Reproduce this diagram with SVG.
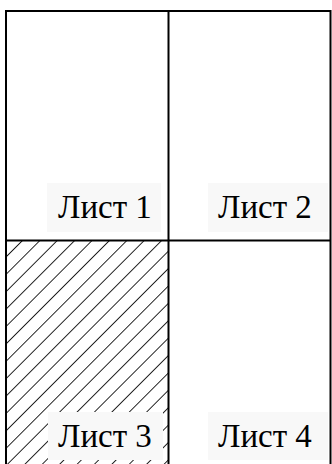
<svg xmlns="http://www.w3.org/2000/svg" width="332" height="464" viewBox="0 0 332 464">
<style>
.cell{fill:none;stroke:#000;stroke-width:2}
.lbl-bg{fill:#f8f8f8}
.lbl{font-family:"Liberation Serif","Times New Roman",serif;font-size:33px;fill:#000}
</style>
<defs>
<pattern id="hatch" patternUnits="userSpaceOnUse" width="12.3" height="12.3" patternTransform="translate(1.4,0) rotate(45)">
<line x1="0" y1="-1" x2="0" y2="14" stroke="#000" stroke-width="1.7"/>
</pattern>
</defs>
<rect x="0" y="0" width="332" height="464" fill="#fff"/>
<g id="sheet3-hatch">
<rect x="6" y="241" width="162.5" height="230" fill="url(#hatch)"/>
</g>
<g id="connectors">
<rect class="cell" x="6" y="11" width="324.5" height="460"/>
<line class="cell" x1="168.5" y1="11" x2="168.5" y2="471"/>
<line class="cell" x1="6" y1="240.5" x2="330.5" y2="240.5"/>
</g>
<g id="sheet1">
<rect class="lbl-bg" x="47" y="183" width="114" height="49"/>
<text class="lbl" x="58" y="218">Лист 1</text>
</g>
<g id="sheet2">
<rect class="lbl-bg" x="208" y="183" width="120" height="49"/>
<text class="lbl" x="218" y="218">Лист 2</text>
</g>
<g id="sheet3">
<rect class="lbl-bg" x="48" y="412" width="115" height="48"/>
<text class="lbl" x="58" y="447">Лист 3</text>
</g>
<g id="sheet4">
<rect class="lbl-bg" x="208" y="412" width="120" height="48"/>
<text class="lbl" x="218" y="447">Лист 4</text>
</g>
</svg>
